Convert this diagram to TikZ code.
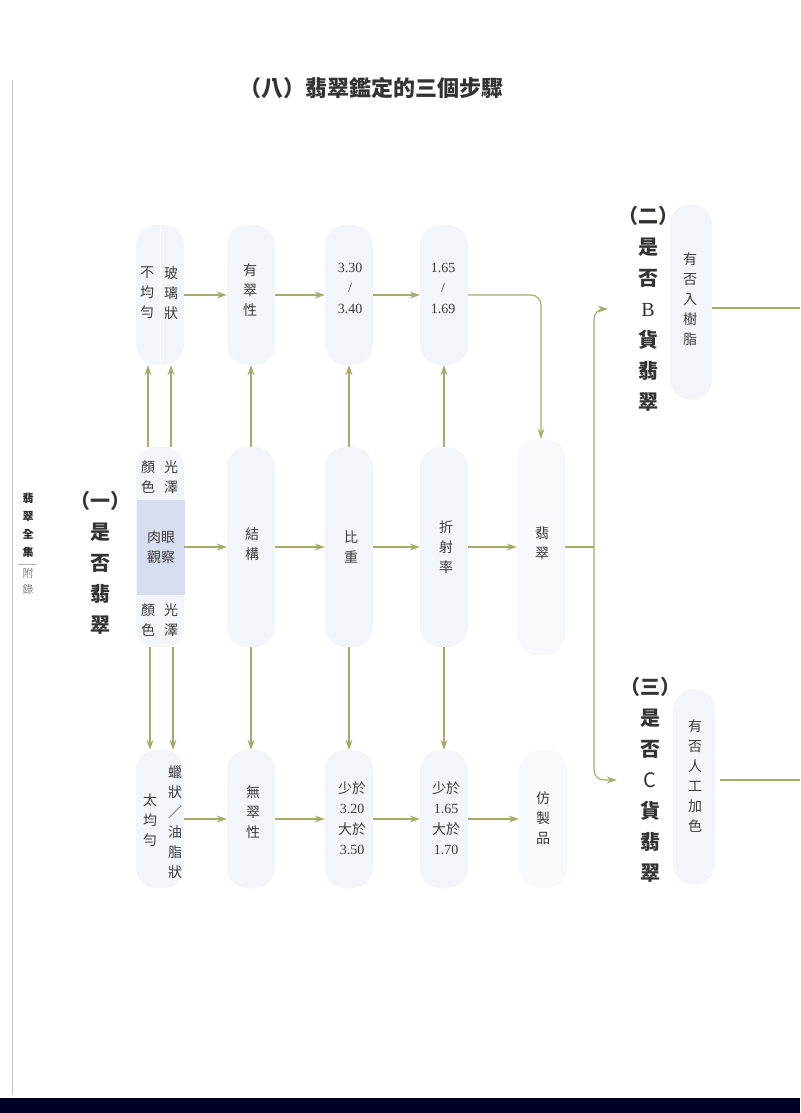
\documentclass[tikz,border=0pt]{standalone}
\usepackage{fontspec}
\setmainfont{Noto Sans CJK TC}
\newfontfamily\numf{Liberation Serif}
\usetikzlibrary{arrows.meta}
\definecolor{arrc}{HTML}{A7AD68}
\definecolor{boxc}{HTML}{F2F6FB}
\definecolor{boxd}{HTML}{F7F9FC}
\definecolor{lav}{HTML}{D9DDF0}
\definecolor{txt}{HTML}{3C3C3C}
\begin{document}
\begin{tikzpicture}[x=1pt,y=-1pt,
 box/.style={fill=boxc, rounded corners=20pt, minimum width=48pt, inner sep=0pt, draw=none},
 pale/.style={box, fill=boxd},
 t/.style={text=txt, font=\fontsize{14}{20}\selectfont, align=center, inner sep=0pt},
 n/.style={text=txt, font=\fontsize{14}{20.5}\selectfont, align=center, inner sep=0pt},
 lab/.style={text=black!80, font=\bfseries\fontsize{20}{31}\selectfont, align=center, inner sep=0pt},
 arr/.style={draw=arrc, line width=1.1pt, -{Stealth[length=10pt,width=7pt]}},
 ln/.style={draw=arrc, line width=1.1pt}]
\useasboundingbox (0,0) rectangle (800,1113);
\fill[white] (0,0) rectangle (800,1113);
% page edge and scan band
\draw[gray!45, line width=1pt] (12,80) -- (12,1095);
\fill[black!85!blue] (0,1098) rectangle (800,1113);

% title
\node[font=\bfseries\fontsize{22}{22}\selectfont, text=black!80] (title) at (371,88) {（八）翡翠鑑定的三個步驟};

% sidebar
\node[font=\bfseries\fontsize{11}{18}\selectfont, align=center, text=black!85, inner sep=0pt] (side1) at (28,525) {翡\\翠\\全\\集};
\draw[gray!60] (18,564) -- (36,564);
\node[font=\fontsize{11}{16}\selectfont, align=center, text=gray, inner sep=0pt] (side2) at (28,581) {附\\錄};

% boxes: top row
\node[box, minimum height=140pt] (t1) at (160,295) {};
\draw[white, line width=1pt] (t1.north) -- (t1.south);
\node[box, minimum height=140pt] (t2) at (251,295) {};
\node[box, minimum height=140pt] (t3) at (349,295) {};
\node[box, minimum height=140pt] (t4) at (444,295) {};
% middle row
\node[box, minimum height=200pt] (m1) at (160,547) {};
\node[box, minimum height=200pt] (m2) at (251,547) {};
\node[box, minimum height=200pt] (m3) at (349,547) {};
\node[box, minimum height=200pt] (m4) at (444,547) {};
\node[pale, minimum height=216pt] (m5) at (541,547) {};
\node[fill=lav, minimum width=48pt, minimum height=95pt, inner sep=0pt] (eye) at (161,547) {};
% bottom row
\node[box, minimum height=138pt] (b1) at (160,819) {};
\node[box, minimum height=138pt] (b2) at (251,819) {};
\node[box, minimum height=138pt] (b3) at (349,819) {};
\node[box, minimum height=138pt] (b4) at (444,819) {};
\node[pale, minimum height=138pt] (b5) at (543,819) {};
% right boxes
\node[box, minimum width=42pt, minimum height=195pt] (r1) at (691,302) {};
\node[box, minimum width=42pt, minimum height=195pt] (r2) at (694,787) {};

% texts top row
\node[t] (x1a) at (147,293) {不\\均\\勻};
\node[t] (x1b) at (171,293) {玻\\璃\\狀};
\node[t] (x2) at (250,290) {有\\翠\\性};
\node[n] (x3) at (350,288) {\numf 3.30\\\numf /\\\numf 3.40};
\node[n] (x4) at (443,288) {\numf 1.65\\\numf /\\\numf 1.69};
% texts middle row
\node[t] (y1a) at (148,477) {顏\\色};
\node[t] (y1b) at (171,477) {光\\澤};
\node[t] (y1c) at (161,547) {肉眼\\觀察};
\node[t] (y1d) at (148,620) {顏\\色};
\node[t] (y1e) at (171,620) {光\\澤};
\node[t] (y2) at (252,544) {結\\構};
\node[t] (y3) at (351,547) {比\\重};
\node[t] (y4) at (446,547) {折\\射\\率};
\node[t] (y5) at (542,543) {翡\\翠};
% texts bottom row
\node[t] (z1a) at (150,820) {太\\均\\勻};
\node[t] (z1b) at (175,822) {蠟\\狀\\／\\油\\脂\\狀};
\node[t] (z2) at (253,812) {無\\翠\\性};
\node[n] (z3) at (352,818) {少於\\\numf 3.20\\大於\\\numf 3.50};
\node[n] (z4) at (446,818) {少於\\\numf 1.65\\大於\\\numf 1.70};
\node[t] (z5) at (543,818) {仿\\製\\品};

% big labels
\node[lab] (L1) at (100,563) {（一）\\是\\否\\翡\\翠};
\node[lab] (L2) at (648,309) {（二）\\是\\否\\{\numf\mdseries B}\\貨\\翡\\翠};
\node[lab] (L3) at (650,780) {（三）\\是\\否\\{\mdseries C}\\貨\\翡\\翠};
\node[t] (r1t) at (690,299) {有\\否\\入\\樹\\脂};
\node[t] (r2t) at (695,776) {有\\否\\人\\工\\加\\色};

% top row arrows
\draw[arr] (t1.east) -- (t2.west);
\draw[arr] (t2.east) -- (t3.west);
\draw[arr] (t3.east) -- (t4.west);
\draw[arr, rounded corners=10pt] (t4.east) -| (m5.north);
% middle row arrows
\draw[arr] (m1.east) -- (m2.west);
\draw[arr] (m2.east) -- (m3.west);
\draw[arr] (m3.east) -- (m4.west);
\draw[arr] (m4.east) -- (m5.west);
\coordinate (J) at (594,547);
\draw[ln] (m5.east) -- (J);
\draw[arr, rounded corners=10pt] (J) |- ([xshift=-10pt]L2.west);
\draw[arr, rounded corners=10pt] (J) |- ([xshift=-3pt]L3.west);
% bottom row arrows
\draw[arr] (b1.east) -- (b2.west);
\draw[arr] (b2.east) -- (b3.west);
\draw[arr] (b3.east) -- (b4.west);
\draw[arr] (b4.east) -- (b5.west);
% vertical arrows up
\draw[arr] ([xshift=-12pt]m1.north) -- ([xshift=-12pt]t1.south);
\draw[arr] ([xshift=11pt]m1.north) -- ([xshift=11pt]t1.south);
\draw[arr] (m2.north) -- (t2.south);
\draw[arr] (m3.north) -- (t3.south);
\draw[arr] (m4.north) -- (t4.south);
% vertical arrows down
\draw[arr] ([xshift=-10pt]m1.south) -- ([xshift=-10pt]b1.north);
\draw[arr] ([xshift=13pt]m1.south) -- ([xshift=13pt]b1.north);
\draw[arr] (m2.south) -- (b2.north);
\draw[arr] (m3.south) -- (b3.north);
\draw[arr] (m4.south) -- (b4.north);
% outgoing lines at right
\coordinate (E1) at (800,308);
\coordinate (E2) at (800,780);
\draw[ln] (r1.east |- E1) -- (E1);
\draw[ln] ([xshift=5pt]r2.east |- E2) -- (E2);
\end{tikzpicture}
\end{document}
